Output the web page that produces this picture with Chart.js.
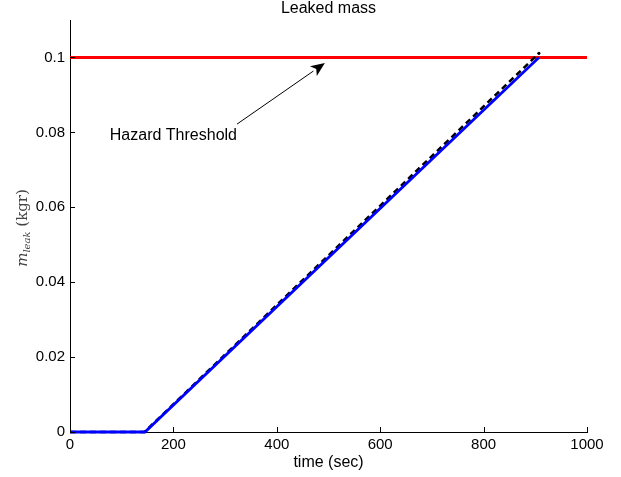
<!DOCTYPE html>
<html>
<head>
<meta charset="utf-8">
<script src="https://cdn.jsdelivr.net/npm/chart.js@4.4.0/dist/chart.umd.min.js"></script>
<style>
html,body{margin:0;padding:0;background:#fff;}
#wrap{width:621px;height:477px;}
</style>
</head>
<body>
<div id="wrap"><canvas id="c" width="621" height="477"></canvas></div>
<script>
// ---- data ----
const blueTime = [0, 145, 907];
const blueMass = [0, 0, 0.1];
const blackTime = [0, 144, 907];
const blackMass = [0, 0, 0.1011];
const thresholdTime = [0, 1000];
const thresholdMass = [0.1, 0.1];
const xTicks = [0, 200, 400, 600, 800, 1000];
const yTicks = [0, 0.02, 0.04, 0.06, 0.08, 0.1];
const chartTitle = 'Leaked mass';
const annotationText = 'Hazard Threshold';
const annotationTextPos = [77, 0.0792];   // left edge, middle
const arrowTail = [323, 0.0822];
const arrowTip = [493, 0.0985];

const toPts = (xs, ys) => xs.map((x, i) => ({x: x, y: ys[i]}));
const FONT = '"Liberation Sans", Arial, Helvetica, sans-serif';

const overlay = {
  id: 'overlay',
  afterDraw(chart) {
    const ctx = chart.ctx;
    const xs = chart.scales.x, ys = chart.scales.y;
    const a = chart.chartArea;
    ctx.save();
    // title centred over the plot area
    ctx.fillStyle = '#000';
    ctx.font = '16px ' + FONT;
    ctx.textAlign = 'center';
    ctx.textBaseline = 'middle';
    ctx.fillText(chartTitle, (a.left + a.right) / 2, 8.5);
    // inward ticks
    ctx.strokeStyle = '#000';
    ctx.lineWidth = 1;
    ctx.beginPath();
    xTicks.forEach(v => {
      const px = Math.round(xs.getPixelForValue(v)) + 0.5;
      ctx.moveTo(px, a.bottom);
      ctx.lineTo(px, a.bottom - 5);
    });
    yTicks.forEach(v => {
      const py = Math.round(ys.getPixelForValue(v)) + 0.5;
      ctx.moveTo(a.left, py);
      ctx.lineTo(a.left + 5, py);
    });
    ctx.stroke();
    // annotation text
    ctx.textAlign = 'left';
    ctx.fillText(annotationText, xs.getPixelForValue(annotationTextPos[0]), ys.getPixelForValue(annotationTextPos[1]));
    // arrow
    const x0 = xs.getPixelForValue(arrowTail[0]), y0 = ys.getPixelForValue(arrowTail[1]);
    const x1 = xs.getPixelForValue(arrowTip[0]), y1 = ys.getPixelForValue(arrowTip[1]);
    const ang = Math.atan2(y1 - y0, x1 - x0);
    const hl = 14, hw = 6;
    const bx = x1 - hl * Math.cos(ang), by = y1 - hl * Math.sin(ang);
    ctx.beginPath();
    ctx.moveTo(x0, y0);
    ctx.lineTo(bx, by);
    ctx.stroke();
    ctx.beginPath();
    ctx.moveTo(x1, y1);
    ctx.lineTo(bx + hw * Math.sin(ang), by - hw * Math.cos(ang));
    ctx.lineTo(x1 - 0.75 * hl * Math.cos(ang), y1 - 0.75 * hl * Math.sin(ang));
    ctx.lineTo(bx - hw * Math.sin(ang), by + hw * Math.cos(ang));
    ctx.closePath();
    ctx.fill();
    // y axis label m_leak (kgr)
    const cy = (a.top + a.bottom) / 2 + 2;
    ctx.translate(23, cy);
    ctx.rotate(-Math.PI / 2);
    ctx.fillStyle = '#444';
    ctx.textBaseline = 'middle';
    const f1 = 'italic 15px "DejaVu Serif", "Liberation Serif", serif';
    const f2 = 'italic 10px "DejaVu Serif", "Liberation Serif", serif';
    const f3 = '15px "DejaVu Serif", "Liberation Serif", serif';
    ctx.font = f1; const w1 = ctx.measureText('m').width;
    ctx.font = f2; const w2 = ctx.measureText('leak').width;
    ctx.font = f3; const w3 = ctx.measureText(' (kgr)').width;
    let sx = -(w1 + w2 + w3) / 2;
    ctx.textAlign = 'left';
    ctx.font = f1; ctx.fillText('m', sx, 0); sx += w1;
    ctx.font = f2; ctx.fillText('leak', sx, 4); sx += w2;
    ctx.font = f3; ctx.fillText(' (kgr)', sx, 0);
    ctx.restore();
  }
};

new Chart(document.getElementById('c'), {
  type: 'scatter',
  data: {
    datasets: [
      {
        label: 'threshold',
        data: toPts(thresholdTime, thresholdMass),
        showLine: true, borderColor: '#ff0000', borderWidth: 3,
        pointRadius: 0, clip: 6, order: 3
      },
      {
        label: 'estimated',
        data: toPts(blackTime, blackMass),
        showLine: true, borderColor: '#000000', borderWidth: 2.5,
        borderDash: [6, 4], pointRadius: [0, 0, 1.5], pointBackgroundColor: '#000',
        pointBorderWidth: 0, clip: 6, order: 2
      },
      {
        label: 'measured',
        data: toPts(blueTime, blueMass),
        showLine: true, borderColor: '#0000ff', borderWidth: 2.8,
        pointRadius: 0, clip: 6, order: 1
      }
    ]
  },
  plugins: [overlay],
  options: {
    responsive: false,
    animation: false,
    devicePixelRatio: 1,
    layout: {padding: {left: 0, right: 34, top: 20, bottom: 0}},
    plugins: {
      legend: {display: false},
      tooltip: {enabled: false},
      title: {display: false}
    },
    scales: {
      x: {
        type: 'linear', min: 0, max: 1000,
        afterBuildTicks: s => { s.ticks = xTicks.map(v => ({value: v})); },
        afterFit: s => { s.height = 45; },
        grid: {display: false, drawTicks: false},
        border: {display: true, color: '#000', width: 1},
        ticks: {color: '#000', font: {family: FONT, size: 15}, padding: 4, maxRotation: 0,
                callback: v => String(v)},
        title: {display: true, text: 'time (sec)', color: '#000',
                font: {family: FONT, size: 16}, padding: {top: 2, bottom: 5}}
      },
      y: {
        type: 'linear', min: 0, max: 0.11,
        afterBuildTicks: s => { s.ticks = yTicks.map(v => ({value: v})); },
        afterFit: s => { s.width = 70; },
        grid: {display: false, drawTicks: false},
        border: {display: true, color: '#000', width: 1},
        ticks: {color: '#000', font: {family: FONT, size: 15}, padding: 5,
                callback: v => String(parseFloat(v.toFixed(4)))}
      }
    }
  }
});
</script>
</body>
</html>
